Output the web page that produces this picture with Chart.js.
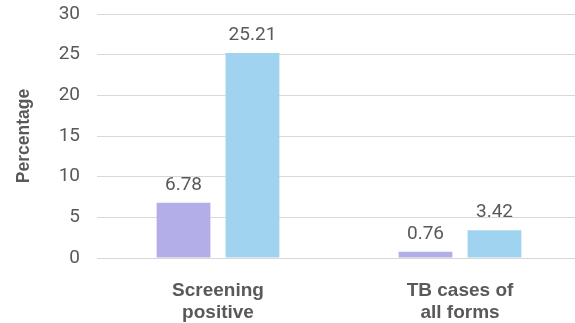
<!DOCTYPE html>
<html>
<head>
<meta charset="utf-8">
<script src="https://cdn.jsdelivr.net/npm/chart.js@4/dist/chart.umd.min.js"></script>
<style>
  html, body { margin: 0; padding: 0; overflow: hidden; background: #fff; }
  #wrap { width: 581px; height: 323px; }
</style>
</head>
<body>
<div id="wrap"><canvas id="c"></canvas></div>
<script>
const categories = [['Screening', 'positive'], ['TB cases of', 'all forms']];
const seriesA = [6.78, 0.76];
const seriesB = [25.21, 3.42];
const yTicks = [0, 5, 10, 15, 20, 25, 30];

const textColor = '#595959';
const numFont = 'Roboto, "Liberation Sans", Arial, sans-serif';
const labelFont = '"Liberation Sans", Arial, sans-serif';

// Writes each bar's value just above its top edge
const valueLabels = {
  id: 'valueLabels',
  afterDatasetsDraw(chart) {
    const ctx = chart.ctx;
    ctx.save();
    ctx.font = '19px ' + numFont;
    ctx.fillStyle = textColor;
    ctx.textAlign = 'center';
    ctx.textBaseline = 'bottom';
    chart.data.datasets.forEach((ds, i) => {
      chart.getDatasetMeta(i).data.forEach((bar, j) => {
        ctx.fillText(ds.data[j].toFixed(2), bar.x, bar.y - 8);
      });
    });
    ctx.restore();
  }
};

new Chart(document.getElementById('c'), {
  type: 'bar',
  data: {
    labels: categories,
    datasets: [
      { label: 'A', data: seriesA, backgroundColor: '#b4aee8', categoryPercentage: 0.57, barPercentage: 0.78 },
      { label: 'B', data: seriesB, backgroundColor: '#9fd3ef', categoryPercentage: 0.57, barPercentage: 0.78 }
    ]
  },
  options: {
    responsive: true,
    maintainAspectRatio: false,
    animation: false,
    layout: { padding: { top: 14, right: 0, left: 0, bottom: 0 } },
    plugins: { legend: { display: false }, tooltip: { enabled: false } },
    scales: {
      x: {
        grid: { display: false },
        border: { display: false },
        ticks: {
          color: textColor,
          font: { family: labelFont, size: 19, weight: 'bold', lineHeight: 1.15 },
          padding: 14
        },
        afterFit(scale) { scale.height = 65; scale.paddingLeft = 0; scale.paddingRight = 0; }
      },
      y: {
        min: 0,
        max: 30,
        afterBuildTicks(scale) { scale.ticks = yTicks.map(v => ({ value: v })); },
        grid: { color: '#d9d9d9', lineWidth: 1, drawTicks: false },
        border: { display: false },
        ticks: {
          color: textColor,
          font: { family: numFont, size: 19 },
          padding: 17
        },
        title: {
          display: true,
          text: 'Percentage',
          color: textColor,
          font: { family: labelFont, size: 17.5, weight: 'bold' },
          padding: { top: 14, bottom: 10 }
        },
        afterFit(scale) { scale.width = 97; scale.paddingTop = 0; scale.paddingBottom = 0; }
      }
    }
  },
  plugins: [valueLabels]
});
</script>
</body>
</html>
